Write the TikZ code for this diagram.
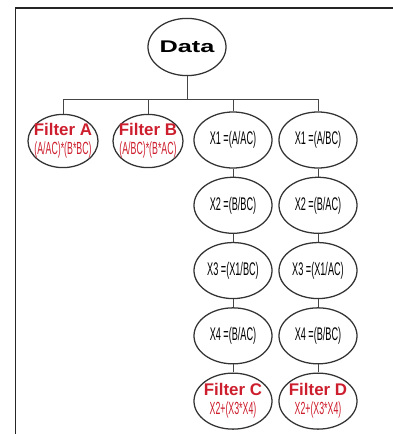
\documentclass[tikz,border=0pt]{standalone}
\usepackage{fontspec}
\setmainfont{Liberation Sans}
\usepackage{graphicx}
\usepackage{tikz}
\usetikzlibrary{
  positioning,
  shapes.geometric
}
\definecolor{filterred}{RGB}{205,30,45}
\definecolor{linegray}{RGB}{70,70,70}
\newcommand{\narrowtxt}[1]{\scalebox{0.5}[1]{#1}}
\newcommand{\subline}[1]{{\fontsize{12.5}{13}\selectfont\mdseries\narrowtxt{#1}}}
\tikzset{
  ovalbox/.style={
    ellipse,
    draw=black!80,
    line width=0.9pt,
    inner xsep=-6mm,
    inner ysep=-3mm,
    align=center,
    minimum width=19.5mm,
    minimum height=14mm
  },
  rootbox/.style={ovalbox,minimum height=14.3mm,font=\fontsize{12}{14}\selectfont\bfseries},
  filterbox/.style={ovalbox,text=filterred,font=\fontsize{12}{13}\selectfont\bfseries},
  smallfilter/.style={filterbox,minimum width=17.5mm,minimum height=13.3mm},
  stepbox/.style={ovalbox,font=\fontsize{13}{14}\selectfont},
  link/.style={draw=linegray,line width=0.6pt},
  frame/.style={draw=black!85,line width=1.1pt}
}

\begin{document}
\begin{tikzpicture}[x=0.025cm,y=-0.025cm,node distance=2mm]
  \useasboundingbox (0,0) rectangle (393,434);
  \draw[frame] (15.5,434) -- (15.5,8) -- (393,8);

  \node[rootbox] (data) at (187,47) {\scalebox{1.5}[1]{Data}};
  \coordinate (split) at (187,99);

  \node[smallfilter] (fa) at (63,141) {Filter A\\[0.5pt]\subline{(A/AC)*(B*BC)}};
  \node[smallfilter] (fb) at (148,141) {Filter B\\[0.5pt]\subline{(A/BC)*(B*AC)}};

  % first chain
  \node[stepbox] (x1a) at (233,140) {\narrowtxt{X1 =(A/AC)}};
  \node[stepbox,below=of x1a] (x2a) {\narrowtxt{X2 =(B/BC)}};
  \node[stepbox,below=of x2a] (x3a) {\narrowtxt{X3 =(X1/BC)}};
  \node[stepbox,below=of x3a] (x4a) {\narrowtxt{X4 =(B/AC)}};
  \node[filterbox,below=of x4a] (fc) {Filter C\\[0.5pt]\subline{X2+(X3*X4)}};

  % second chain
  \node[stepbox] (x1b) at (318,140) {\narrowtxt{X1 =(A/BC)}};
  \node[stepbox,below=of x1b] (x2b) {\narrowtxt{X2 =(B/AC)}};
  \node[stepbox,below=of x2b] (x3b) {\narrowtxt{X3 =(X1/AC)}};
  \node[stepbox,below=of x3b] (x4b) {\narrowtxt{X4 =(B/BC)}};
  \node[filterbox,below=of x4b] (fd) {Filter D\\[0.5pt]\subline{X2+(X3*X4)}};

  \draw[link] (data) -- (split);
  \foreach \n in {fa,fb,x1a,x1b}
    \draw[link] (split) -| (\n.north);
  \foreach \a/\b in {x1a/x2a,x2a/x3a,x3a/x4a,x4a/fc,x1b/x2b,x2b/x3b,x3b/x4b,x4b/fd}
    \draw[link] (\a) -- (\b);
\end{tikzpicture}
\end{document}
